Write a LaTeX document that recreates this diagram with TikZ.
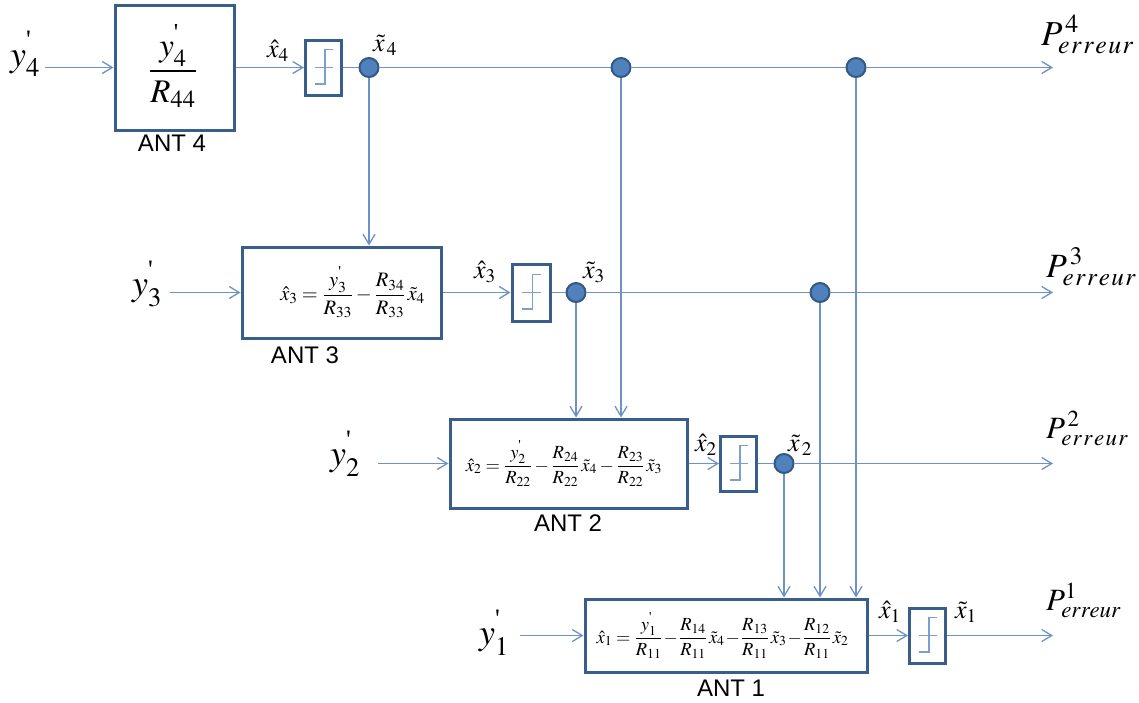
\documentclass[tikz,border=0pt]{standalone}
\usepackage{amsmath}
\usepackage{mathptmx}
\usepackage{fontspec}
\setmainfont{Liberation Serif}
\newfontfamily\antfont{Liberation Sans}
\usetikzlibrary{arrows.meta}
\definecolor{linec}{RGB}{110,145,198}
\definecolor{boxc}{RGB}{58,94,140}
\definecolor{dotfill}{RGB}{79,129,189}
\definecolor{dotline}{RGB}{52,88,132}
\definecolor{qlinec}{RGB}{125,158,208}
\newcommand{\pr}{\text{\raisebox{0.35ex}{\textquotesingle}}}
\newcommand{\err}{e\mkern1mu r\mkern1mu r\mkern1mu e\mkern1mu u\mkern1mu r}
\begin{document}
\begin{tikzpicture}[x=1pt,y=-1pt,
 flow/.style={draw=linec, line width=1.3pt},
 arr/.style={flow, -{Straight Barb[length=10pt,width=12pt,line width=1.3pt]}},
 antbox/.style={draw=boxc, line width=3pt, rectangle, inner sep=0pt},
 qbox/.style={draw=boxc, line width=3pt, rectangle, inner sep=0pt, minimum width=36pt, minimum height=55pt},
 qsym/.style={draw=qlinec, line width=1.7pt},
 dot/.style={circle, fill=dotfill, draw=dotline, line width=2pt, minimum size=19pt, inner sep=0pt},
 lab/.style={inner sep=0pt, font=\fontsize{26}{28}\selectfont},
 inlab/.style={inner sep=0pt, font=\fontsize{36}{40}\selectfont},
 plab/.style={inner sep=0pt, anchor=base west},
 antlab/.style={inner sep=0pt, font=\antfont\fontsize{24}{26}\selectfont},
 bigeq/.style={inner sep=0pt, font=\fontsize{33}{35}\selectfont},
]
\useasboundingbox (0,0) rectangle (1139,702);

% blocks
\node[antbox, minimum width=119pt, minimum height=125pt] (ant4) at (174.5,67.5) {};
\node[antbox, minimum width=199pt, minimum height=91pt] (ant3) at (341.5,292.5) {};
\node[antbox, minimum width=237pt, minimum height=89pt] (ant2) at (568.5,463.5) {};
\node[antbox, minimum width=282pt, minimum height=73pt] (ant1) at (726,635.5) {};

% quantizers
\node[qbox] (q4) at (323.5,67.5) {};
\node[qbox, minimum width=38pt, minimum height=57pt] (q3) at (531,292.5) {};
\node[qbox] (q2) at (738.5,463.5) {};
\node[qbox] (q1) at (927.5,635.5) {};
\foreach \q in {q4,q3,q2,q1}{
  \draw[qsym] ([shift={(-9,0)}]\q.center) -- ([shift={(9.5,0)}]\q.center);
  \draw[qsym] ([shift={(-9,16.5)}]\q.center) -- ([shift={(1.5,16.5)}]\q.center)
     -- ([shift={(1.5,-18)}]\q.center) -- ([shift={(9.5,-18)}]\q.center);
}

% junction dots
\node[dot] (c4) at (369,67.5) {};
\node[dot] (d4a) at (621,67.5) {};
\node[dot] (d4b) at (856,67.5) {};
\node[dot] (c3) at (576,292.5) {};
\node[dot] (d3) at (820,292.5) {};
\node[dot] (c2) at (784,463.5) {};

% free ends
\coordinate (i4) at (45,67.5);
\coordinate (i3) at (170,292.5);
\coordinate (i2) at (378,463.5);
\coordinate (i1) at (520,635.5);
\coordinate (o4) at (1053,67.5);
\coordinate (o3) at (1053,292.5);
\coordinate (o2) at (1053,463.5);
\coordinate (o1) at (1053,635.5);

% formulas
\node[bigeq] (f4) at (173,66) {$\displaystyle\frac{y_4^{\pr}}{R_{44}}$};
\node[inner sep=0pt, font=\fontsize{20.5}{22}\selectfont] (f3) at (352.5,292.5)
  {$\hat{x}_3=\dfrac{y_3^{\pr}}{R_{33}}-\dfrac{R_{34}}{R_{33}}\,\tilde{x}_4$};
\node[inner sep=0pt, font=\fontsize{18.5}{20}\selectfont] (f2) at (564,463.5)
  {$\medmuskip=2.5mu\hat{x}_2=\dfrac{y_2^{\pr}}{R_{22}}-\dfrac{R_{24}}{R_{22}}\,\tilde{x}_4-\dfrac{R_{23}}{R_{22}}\,\tilde{x}_3$};
\node[inner sep=0pt, font=\fontsize{18.5}{20}\selectfont] (f1) at (722.5,635.5)
  {$\medmuskip=1mu\hat{x}_1=\dfrac{y_1^{\pr}}{R_{11}}-\dfrac{R_{14}}{R_{11}}\,\tilde{x}_4-\dfrac{R_{13}}{R_{11}}\,\tilde{x}_3-\dfrac{R_{12}}{R_{11}}\,\tilde{x}_2$};

% block names
\node[antlab] (a4) at (172,143.5) {ANT 4};
\node[antlab] (a3) at (305,355) {ANT 3};
\node[antlab] (a2) at (568,523) {ANT 2};
\node[antlab] (a1) at (731,688) {ANT 1};

% input labels
\node[inlab] (y4) at (25,54) {$y_4^{\pr}$};
\node[inlab] (y3) at (147,284) {$y_3^{\pr}$};
\node[inlab] (y2) at (345,453.5) {$y_2^{\pr}$};
\node[inlab] (y1) at (494,632.5) {$y_1^{\pr}$};

% signal labels
\node[lab] (xh4) at (278,51) {$\hat{x}_4$};
\node[lab] (xt4) at (385,45) {$\tilde{x}_{\,4}$};
\node[lab] (xh3) at (485,271.5) {$\hat{x}_3$};
\node[lab] (xt3) at (594,272.5) {$\tilde{x}_3$};
\node[lab] (xh2) at (706,445) {$\hat{x}_2$};
\node[lab] (xt2) at (800,445) {$\tilde{x}_{\,2}$};
\node[lab] (xh1) at (890,612) {$\hat{x}_1$};
\node[lab] (xt1) at (966,612) {$\tilde{x}_1$};

% output labels
\node[plab, font=\fontsize{35}{38}\selectfont] (p4) at (1041,45) {$P^{\,4}_{\err}$};
\node[plab, font=\fontsize{34}{37}\selectfont] (p3) at (1046,277) {$P^{\,3}_{\err}$};
\node[plab, font=\fontsize{31}{34}\selectfont] (p2) at (1046,438) {$P^{\,2}_{\err}$};
\node[plab, font=\fontsize{31}{34}\selectfont] (p1) at (1046,610) {$P^{1}_{erreur}$};

% row 4
\draw[arr] (i4) -- (ant4);
\draw[arr] (ant4) -- (q4);
\draw[flow] (q4) -- (c4);
\draw[flow] (c4) -- (d4a);
\draw[flow] (d4a) -- (d4b);
\draw[arr] (d4b) -- (o4);
\draw[arr] (c4) -- (c4 |- ant3.north);
\draw[arr] (d4a) -- (d4a |- ant2.north);
\draw[arr] (d4b) -- (d4b |- ant1.north);
% row 3
\draw[arr] (i3) -- (ant3);
\draw[arr] (ant3) -- (q3);
\draw[flow] (q3) -- (c3);
\draw[flow] (c3) -- (d3);
\draw[arr] (d3) -- (o3);
\draw[arr] (c3) -- (c3 |- ant2.north);
\draw[arr] (d3) -- (d3 |- ant1.north);
% row 2
\draw[arr] (i2) -- (ant2);
\draw[arr] (ant2) -- (q2);
\draw[flow] (q2) -- (c2);
\draw[arr] (c2) -- (o2);
\draw[arr] (c2) -- (c2 |- ant1.north);
% row 1
\draw[arr] (i1) -- (ant1);
\draw[arr] (ant1) -- (q1);
\draw[arr] (q1) -- (o1);
\end{tikzpicture}
\end{document}
